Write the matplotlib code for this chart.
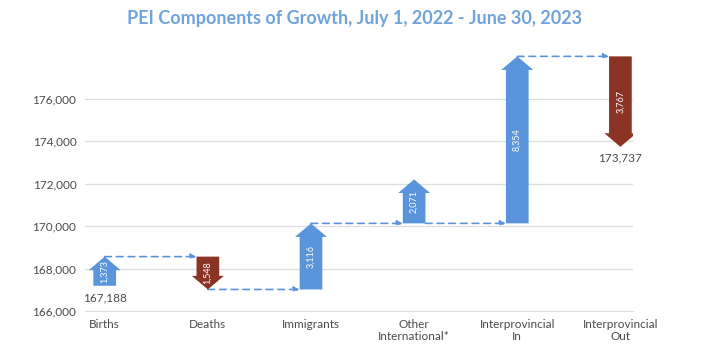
import matplotlib.pyplot as plt

# components of growth, levels
categories = ["Births", "Deaths", "Immigrants", "Other\nInternational*",
              "Interprovincial\nIn", "Interprovincial\nOut"]
starts = [167188, 168561, 167013, 170129, 170129, 178000]
ends = [168561, 167013, 170129, 172200, 178000, 173737]
changes = [1373, 1548, 3116, 2071, 8354, 3767]
start_label = "167,188"
end_label = "173,737"
yticks = [166000, 168000, 170000, 172000, 174000, 176000]

blue = "#5a95dc"
red = "#8a3426"
txt = "#4a4a4a"

plt.rcParams['font.family'] = ['Lato', 'DejaVu Sans']

fig = plt.figure(figsize=(7.24, 3.62), dpi=100)
ax = fig.add_axes([0.117, 0.141, 0.757, 0.715])

shaft = 0.22
head_w = 0.31
head_len = 640

for i in range(len(categories)):
    dy = ends[i] - starts[i]
    col = blue if dy > 0 else red
    ax.arrow(i, starts[i], 0, dy, width=shaft, head_width=head_w,
             head_length=head_len, length_includes_head=True,
             facecolor=col, edgecolor='none', zorder=3)
    mid = (starts[i] + ends[i]) / 2
    ax.text(i, mid, f"{changes[i]:,}", rotation=90, ha='center', va='center',
            color='white', fontsize=6.5, zorder=4)

# dashed connectors
for i in range(len(categories) - 1):
    y = starts[i + 1]
    x0 = i if ends[i] == y else i + shaft / 2
    x1 = i + 1 - shaft / 2
    ax.annotate("", xy=(x1, y), xytext=(x0, y),
                arrowprops=dict(arrowstyle='-|>', linestyle=(0, (4, 3)),
                                color=blue, lw=1.2, mutation_scale=8,
                                shrinkA=0, shrinkB=0), zorder=2)

ax.text(0, starts[0] - 320, start_label, ha='center', va='top',
        fontsize=8.5, color=txt)
ax.text(5, ends[5] - 250, end_label, ha='center', va='top',
        fontsize=8.5, color=txt)

ax.set_ylim(166000, 178200)
ax.set_xlim(-0.194, 5.12)
ax.set_yticks(yticks)
ax.set_yticklabels([f"{v:,}" for v in yticks], fontsize=8.5, color=txt)
ax.set_xticks(range(len(categories)))
ax.set_xticklabels(categories, fontsize=8.5, color=txt, linespacing=1.1)
ax.tick_params(length=0, pad=6)
ax.grid(axis='y', color='#dddddd', lw=0.9)
ax.set_axisbelow(True)
for s in ['top', 'right', 'left']:
    ax.spines[s].set_visible(False)
ax.spines['bottom'].set_color('#dddddd')

fig.text(0.49, 0.95, "PEI Components of Growth, July 1, 2022 - June 30, 2023",
         ha='center', va='center', fontsize=13, fontweight='bold',
         color='#6fa3dc')

fig.savefig("out.png", dpi=100)
